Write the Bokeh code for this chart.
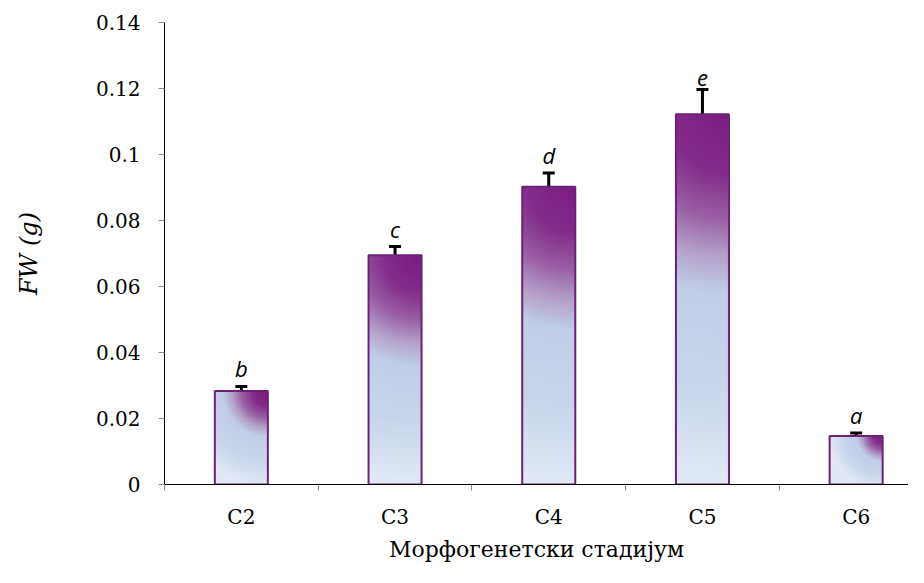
import numpy as np
from bokeh.plotting import figure
from bokeh.models import Range1d, FixedTicker, Whisker, ColumnDataSource, TeeHead, CustomJSTickFormatter
from bokeh.core.properties import value
from bokeh.embed import file_html
from bokeh.resources import INLINE

# ---- data ----
categories = ["C2", "C3", "C4", "C5", "C6"]
fw_mean = [0.0283, 0.0695, 0.0902, 0.1122, 0.0147]
fw_err = [0.0014, 0.0026, 0.0042, 0.0075, 0.0009]
sig_letters = ["b", "c", "d", "e", "a"]
y_ticks = [0.0, 0.02, 0.04, 0.06, 0.08, 0.1, 0.12, 0.14]

# ---- layout ----
W, H = 908, 567
B_LEFT, B_TOP, B_BOTTOM, B_RIGHT = 164, 22, 83, 0
frame_w = W - B_LEFT - B_RIGHT
frame_h = H - B_TOP - B_BOTTOM
PX_PER_CAT = 153.7
x_start = -0.5
x_end = x_start + frame_w / PX_PER_CAT
y_end = y_ticks[-1]
BAR_W = 0.345

SERIF = "DejaVu Serif"

p = figure(width=W, height=H, output_backend="svg", toolbar_location=None,
           x_range=Range1d(x_start, x_end), y_range=Range1d(0, y_end),
           min_border_left=B_LEFT, min_border_top=B_TOP,
           min_border_bottom=B_BOTTOM, min_border_right=B_RIGHT)
p.outline_line_color = None
p.xgrid.visible = False
p.ygrid.visible = False
p.background_fill_color = "white"
p.border_fill_color = "white"

xs = list(range(len(categories)))

# ---- gradient fills (image per bar) ----
stops_d = np.array([0.0, 0.16, 0.28, 0.38, 0.48, 0.72, 1.0])
stops_c = np.array([
    [122, 28, 130],
    [132, 44, 140],
    [154, 96, 164],
    [180, 160, 202],
    [192, 206, 233],
    [199, 213, 236],
    [226, 233, 245],
], dtype=float)

px_per_y = frame_h / y_end
for x, v in zip(xs, fw_mean):
    hp = max(int(round(v * px_per_y)), 2)
    wp = max(int(round(BAR_W * PX_PER_CAT)), 2)
    rows = np.arange(hp)[:, None]  # row 0 = bottom
    cols = np.arange(wp)[None, :]
    dy = (hp - 1 - rows).astype(float)
    dx = (wp - 1 - cols).astype(float)
    d = np.sqrt(dx ** 2 + dy ** 2) / max(hp, wp)
    d = np.clip(d, 0, 1)
    rgb = np.stack([np.interp(d, stops_d, stops_c[:, k]) for k in range(3)], axis=-1)
    img = np.empty((hp, wp), dtype=np.uint32)
    view = img.view(dtype=np.uint8).reshape((hp, wp, 4))
    view[..., 0] = rgb[..., 0].astype(np.uint8)
    view[..., 1] = rgb[..., 1].astype(np.uint8)
    view[..., 2] = rgb[..., 2].astype(np.uint8)
    view[..., 3] = 255
    p.image_rgba(image=[img], x=x - BAR_W / 2, y=0, dw=BAR_W, dh=v)

# ---- bar outlines ----
src = ColumnDataSource(dict(
    x=xs, mean=fw_mean,
    upper=[m + e for m, e in zip(fw_mean, fw_err)],
    letters=sig_letters,
))
p.vbar(x="x", top="mean", bottom=0, width=BAR_W, source=src,
       fill_color=None, line_color="#6b2275", line_width=2)

# ---- error bars ----
wh = Whisker(source=src, base="x", upper="upper", lower="mean", dimension="height",
             line_color="black", line_width=3,
             upper_head=TeeHead(size=12, line_color="black", line_width=3),
             lower_head=None)
p.add_layout(wh)

# ---- significance letters ----
p.text(x="x", y="upper", text="letters", source=src, text_align="center",
       text_baseline="bottom", y_offset=-3,
       text_font=value("Open Sans"), text_font_style="italic",
       text_font_size="22px", text_color="black")

# ---- x axis ----
xa = p.xaxis[0]
xa.ticker = FixedTicker(ticks=xs, minor_ticks=[i - 0.5 for i in range(len(categories) + 1)])
xa.major_label_overrides = {i: c for i, c in enumerate(categories)}
xa.axis_line_color = "black"
xa.axis_line_width = 1
xa.major_tick_line_color = None
xa.major_tick_out = 0
xa.major_tick_in = 0
xa.minor_tick_line_color = "#8c8c8c"
xa.minor_tick_out = 6
xa.minor_tick_in = 0
xa.major_label_standoff = 14
xa.major_label_text_font = SERIF
xa.major_label_text_font_size = "20px"
xa.major_label_text_color = "black"
xa.axis_label = "Морфогенетски стадијум"
xa.axis_label_text_font = SERIF
xa.axis_label_text_font_style = "normal"
xa.axis_label_text_font_size = "22px"
xa.axis_label_text_color = "black"
xa.axis_label_standoff = 5

# ---- y axis ----
ya = p.yaxis[0]
ya.ticker = FixedTicker(ticks=y_ticks, minor_ticks=[])
ya.formatter = CustomJSTickFormatter(code="""
    let s = tick.toFixed(2);
    s = s.replace(/0+$/, '').replace(/\\.$/, '');
    return s;
""")
ya.axis_line_color = "black"
ya.major_tick_line_color = "#8c8c8c"
ya.major_tick_out = 6
ya.major_tick_in = 0
ya.minor_tick_line_color = None
ya.major_label_standoff = 18
ya.major_label_text_font = SERIF
ya.major_label_text_font_size = "20px"
ya.major_label_text_color = "black"
ya.axis_label = "FW (g)"
ya.axis_label_text_font = SERIF
ya.axis_label_text_font_style = "italic"
ya.axis_label_text_font_size = "24px"
ya.axis_label_text_color = "black"
ya.axis_label_standoff = 50

open("out.html", "w").write(file_html(p, INLINE))
